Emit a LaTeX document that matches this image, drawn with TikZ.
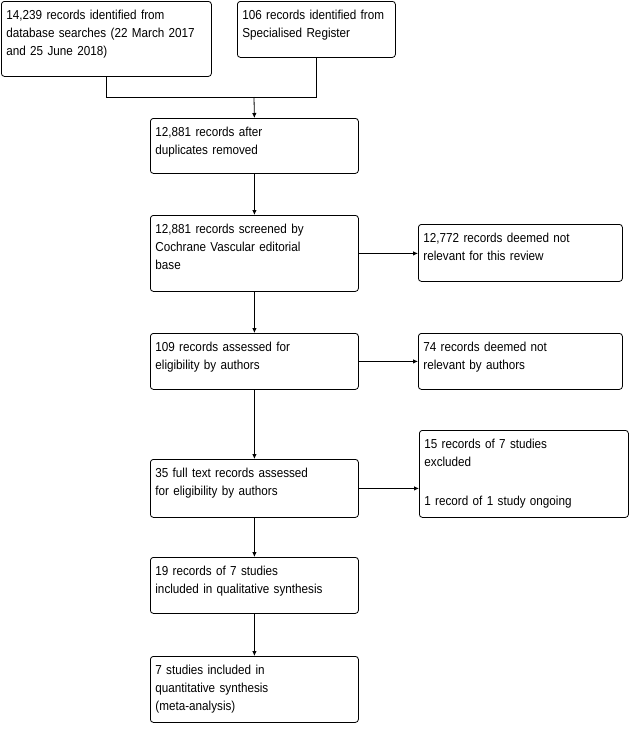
\documentclass[tikz,border=0pt]{standalone}
\usepackage{fontspec}
\setmainfont{Liberation Sans}[FakeStretch=0.9]
\usetikzlibrary{arrows.meta, calc}

\begin{document}
\begin{tikzpicture}[x=1pt, y=-1pt,
        box/.style={draw, rounded corners=3pt, anchor=north west, align=left, inner xsep=5pt, inner ysep=4pt, text height=14pt, line width=0.8pt, font=\fontsize{13}{18}\selectfont},
        link/.style={line width=0.8pt},
        arrow/.style={line width=0.8pt, -{Latex[length=5pt, width=4.5pt]}}
    ]
        \useasboundingbox (0,0) rectangle (630,732);

        \node[box, text width=200pt, text depth=53pt] (db) at (1,1) {14,239 records identified from\\database searches (22 March 2017\\and 25 June 2018)};
        \node[box, text width=148pt, text depth=34pt] (reg) at (237,1) {106 records identified from\\Specialised Register};

        \node[box, text width=198pt, text depth=33pt] (dup) at (150,118) {12,881 records after\\duplicates removed};
        \node[box, text width=198pt, text depth=54pt] (scr) at (150,215) {12,881 records screened by\\Cochrane Vascular editorial\\base};
        \node[box, text width=194pt, text depth=35pt] (notrel) at (418,224) {12,772 records deemed not\\relevant for this review};

        \node[box, text width=198pt, text depth=34pt] (elig) at (150,333) {109 records assessed for\\eligibility by authors};
        \node[box, text width=194pt, text depth=34pt] (notauth) at (418,333) {74 records deemed not\\relevant by authors};

        \node[box, text width=198pt, text depth=36pt] (full) at (150,459) {35 full text records assessed\\for eligibility by authors};
        \node[box, text width=199pt, text depth=65pt] (excl) at (419,430) {15 records of 7 studies\\excluded\\[21pt]1 record of 1 study ongoing};

        \node[box, text width=198pt, text depth=34pt] (qual) at (150,557) {19 records of 7 studies\\included in qualitative synthesis};
        \node[box, text width=198pt, text depth=44pt] (quant) at (150,656) {7 studies included in\\quantitative synthesis\\(meta-analysis)};

        \coordinate (merge) at (254,97);
        \draw[link] (db.south) |- (merge);
        \draw[link] (reg.south) |- (merge);
        \draw[arrow] (merge) -- (dup.north);

        \draw[arrow] (dup.south) -- (scr.north);
        \draw[arrow] (scr.east) -- (scr.east -| notrel.west);
        \draw[arrow] (scr.south) -- (elig.north);
        \draw[arrow] (elig.east) -- (elig.east -| notauth.west);
        \draw[arrow] (elig.south) -- (full.north);
        \draw[arrow] (full.east) -- (full.east -| excl.west);
        \draw[arrow] (full.south) -- (qual.north);
        \draw[arrow] (qual.south) -- (quant.north);

    \end{tikzpicture}
\end{document}
